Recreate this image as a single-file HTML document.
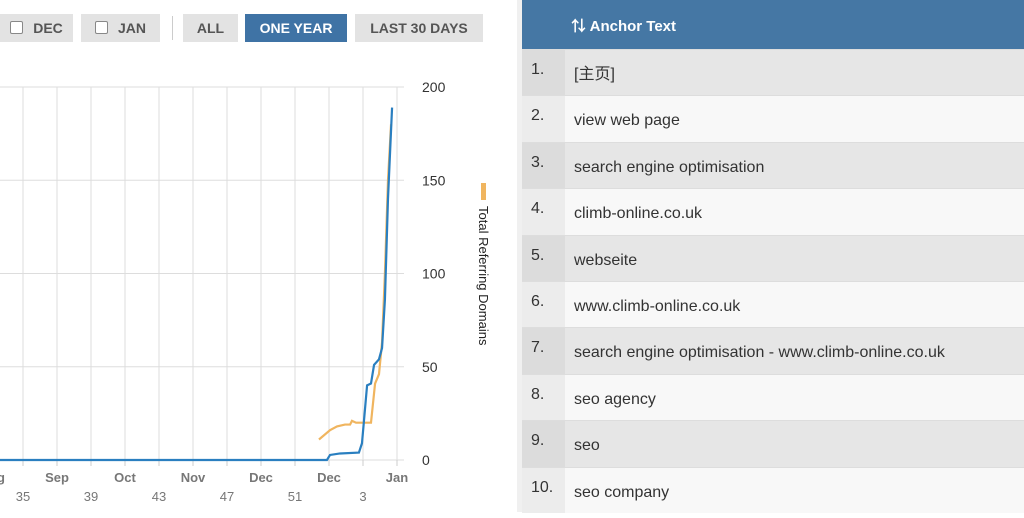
<!DOCTYPE html>
<html><head><meta charset="utf-8"><style>
body{margin:0;width:1024px;height:512px;overflow:hidden;background:#fff;font-family:"Liberation Sans","Noto Sans CJK SC",sans-serif;position:relative}
.btn{position:absolute;top:14px;height:28px;background:#e3e3e3;color:#555;font-weight:bold;font-size:14px;line-height:29px;text-align:center}
.cb{display:inline-block;width:11px;height:11px;border:1px solid #888;background:#fff;border-radius:2px;vertical-align:-1px;margin-right:10px}
#table{position:absolute;left:522px;top:0;width:502px}
.row{height:46.4px;box-sizing:border-box;position:relative;font-size:16px;color:#333}
.row .n{position:absolute;left:0;top:0;width:43px;height:100%;padding-left:9px;box-sizing:border-box;line-height:40px}
.row .t{position:absolute;left:52px;line-height:50px}
</style></head><body>
<div class="btn" style="left:0;width:73px"><span class="cb"></span>DEC</div>
<div class="btn" style="left:81px;width:79px"><span class="cb"></span>JAN</div>
<div style="position:absolute;left:172px;top:16px;width:1px;height:24px;background:#ccc"></div>
<div class="btn" style="left:183px;width:55px">ALL</div>
<div class="btn" style="left:245px;width:102px;background:#3f73a5;color:#fff">ONE YEAR</div>
<div class="btn" style="left:355px;width:128px">LAST 30 DAYS</div>
<div style="position:absolute;left:517px;top:0;width:5px;height:512px;background:#f0f0f0"></div>
<svg id="chart" width="517" height="512" style="position:absolute;left:0;top:0"></svg>
<div id="table">
<div style="height:49px;background:#4577a4;color:#fff;font-weight:bold;font-size:15px;position:relative"><span style="position:absolute;left:49px;top:15px">⇅ Anchor Text</span></div>
</div>
<script>
const weeks=[33.6,52.88,53.06,53.65,54.76,54.94,55.24,55.47,55.65,55.94,56.12,56.29,56.47,56.71];
const blue=[0,0,2.7,3.5,4,9,40,41,51,54,60,86,140,189];
const oWeeks=[52.41,53.06,53.47,53.94,54.24,54.35,54.59,55.47,55.71,55.94,56.12,56.29,56.47,56.65];
const orange=[11,16,18,19,19,21,20,20,41,46,63,100,150,180];
const yTicks=[0,50,100,150,200];
const months=["g","Sep","Oct","Nov","Dec","Dec","Jan"];
const monthWeeks=[33.7,37,41,45,49,53,57];
const weekLabels=["35","39","43","47","51","3"];
const weekLabelPos=[35,39,43,47,51,55];
const NS="http://www.w3.org/2000/svg";
const svg=document.getElementById('chart');
const X=w=>23+(w-35)*17, Y=v=>460-v*1.865;
function mk(t,a){const e=document.createElementNS(NS,t);for(const k in a)e.setAttribute(k,a[k]);svg.appendChild(e);return e;}
for(let w=35;w<=57;w+=2){const l=mk('line',{x1:X(w),x2:X(w),y1:87,y2:460,stroke:'#ddd','stroke-width':1});

}
yTicks.forEach(v=>{const l=mk('line',{x1:0,x2:404,y1:Y(v),y2:Y(v),stroke:'#ddd'});


const t=mk('text',{x:422,y:Y(v)+5,'font-size':14,fill:'#333'});t.textContent=v;

});
for(let w=35;w<=57;w+=2){const l=mk('line',{x1:X(w),x2:X(w),y1:460,y2:466,stroke:'#ccc'});

}
months.forEach((m,i)=>{const t=mk('text',{x:X(monthWeeks[i]),y:482,'font-size':13,'font-weight':'bold',fill:'#777','text-anchor':'middle'});t.textContent=m;

});
weekLabels.forEach((m,i)=>{const t=mk('text',{x:X(weekLabelPos[i]),y:501,'font-size':13,fill:'#777','text-anchor':'middle'});t.textContent=m;

});
const o=mk('polyline',{points:oWeeks.map((w,i)=>X(w)+','+Y(orange[i])).join(' '),fill:'none',stroke:'#f0b55f','stroke-width':2.2});


const b=mk('polyline',{points:weeks.map((w,i)=>X(w)+','+Y(blue[i])).join(' '),fill:'none',stroke:'#2a7fc0','stroke-width':2.2});


const sw=mk('rect',{x:481,y:183,width:5,height:17,fill:'#f0b55f'});


const at=mk('text',{x:0,y:0,'font-size':13,fill:'#222',transform:'translate(479,206) rotate(90)'});at.textContent='Total Referring Domains';


const rows=["[主页]","view web page","search engine optimisation","climb-online.co.uk","webseite","www.climb-online.co.uk","search engine optimisation - www.climb-online.co.uk","seo agency","seo","seo company"];
const tb=document.getElementById('table');
rows.forEach((r,i)=>{const d=document.createElement('div');d.className='row';


d.style.background=i%2?'#f8f8f8':'#e6e6e6';d.style.borderTop='1px solid #ddd';
d.innerHTML='<div class="n" style="background:'+(i%2?'#ececec':'#dcdcdc')+'">'+(i+1)+'.</div><span class="t"></span>';
d.querySelector('.t').textContent=r;tb.appendChild(d);});
</script>
</body></html>
